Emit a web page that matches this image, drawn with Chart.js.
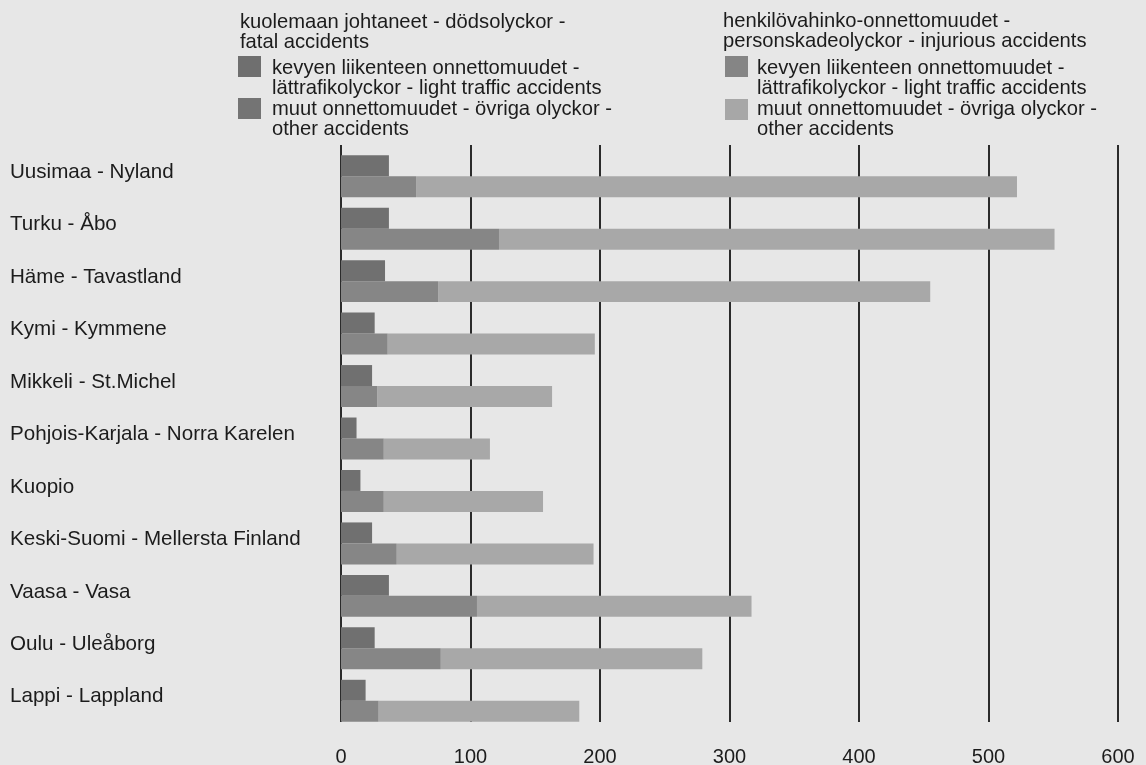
<!DOCTYPE html>
<html>
<head>
<meta charset="utf-8">
<script src="https://cdn.jsdelivr.net/npm/chart.js@4/dist/chart.umd.min.js"></script>
<style>
  html, body { margin: 0; padding: 0; background: #e7e7e7; }
  #wrap { position: relative; width: 1146px; height: 765px; overflow: hidden; background: #e7e7e7; }
  #c { position: absolute; left: 0; top: 0; }
  .lg { position: absolute; font-family: "Liberation Sans", Arial, sans-serif; font-size: 20.2px; color: #1c1c1c; white-space: nowrap; }
  .t { line-height: 20px; }
  .it { line-height: 20.5px; }
  .sq { position: absolute; width: 23px; height: 21px; }
</style>
</head>
<body>
<div id="wrap">
  <canvas id="c" width="1146" height="765"></canvas>

  <div class="lg t" style="left:240px; top:11px;">kuolemaan johtaneet - dödsolyckor -<br>fatal accidents</div>
  <div class="sq" style="left:238px; top:56px; background:#6f6f6f;"></div>
  <div class="lg it" style="left:272px; top:56.5px;">kevyen liikenteen onnettomuudet -<br>lättrafikolyckor - light traffic accidents</div>
  <div class="sq" style="left:238px; top:98px; background:#747474;"></div>
  <div class="lg it" style="left:272px; top:97.5px;">muut onnettomuudet - övriga olyckor -<br>other accidents</div>

  <div class="lg t" style="left:723px; top:10px;">henkilövahinko-onnettomuudet -<br>personskadeolyckor - injurious accidents</div>
  <div class="sq" style="left:725px; top:56px; background:#858585;"></div>
  <div class="lg it" style="left:757px; top:56.5px;">kevyen liikenteen onnettomuudet -<br>lättrafikolyckor - light traffic accidents</div>
  <div class="sq" style="left:725px; top:99px; background:#a7a7a7;"></div>
  <div class="lg it" style="left:757px; top:97.5px;">muut onnettomuudet - övriga olyckor -<br>other accidents</div>
</div>
<script>
// ---- data ----
const regions = [
  "Uusimaa - Nyland",
  "Turku - Åbo",
  "Häme - Tavastland",
  "Kymi - Kymmene",
  "Mikkeli - St.Michel",
  "Pohjois-Karjala - Norra Karelen",
  "Kuopio",
  "Keski-Suomi - Mellersta Finland",
  "Vaasa - Vasa",
  "Oulu - Uleåborg",
  "Lappi - Lappland"
];
// fatal accidents (light traffic + other, drawn in near-identical tones)
const fatalAccidents = [37, 37, 34, 26, 24, 12, 15, 24, 37, 26, 19];
// injurious accidents: light traffic accidents
const injuriousLightTraffic = [58, 122, 75, 36, 28, 33, 33, 43, 105, 77, 29];
// injurious accidents: other accidents (segment length beyond light traffic)
const injuriousOther = [464, 429, 380, 160, 135, 82, 123, 152, 212, 202, 155];
const xTicks = [0, 100, 200, 300, 400, 500, 600];

const FONT = '"Liberation Sans", Arial, sans-serif';

const gridPlugin = {
  id: 'vgrid',
  beforeDatasetsDraw(chart) {
    const ctx = chart.ctx;
    const xs = chart.scales.x;
    const area = chart.chartArea;
    ctx.save();
    ctx.strokeStyle = '#2b2b2b';
    ctx.lineWidth = 2;
    xTicks.forEach(v => {
      const px = Math.round(xs.getPixelForValue(v));
      ctx.beginPath();
      ctx.moveTo(px, area.top - 5);
      ctx.lineTo(px, area.bottom - 5);
      ctx.stroke();
    });
    ctx.restore();
  }
};

new Chart(document.getElementById('c'), {
  type: 'bar',
  data: {
    labels: regions,
    datasets: [
      { label: 'kuolemaan johtaneet - fatal accidents', data: fatalAccidents, stack: 'fatal', backgroundColor: '#707070', borderWidth: 0 },
      { label: 'kevyen liikenteen onnettomuudet - light traffic accidents', data: injuriousLightTraffic, stack: 'injurious', backgroundColor: '#868686', borderWidth: 0 },
      { label: 'muut onnettomuudet - other accidents', data: injuriousOther, stack: 'injurious', backgroundColor: '#a8a8a8', borderWidth: 0 }
    ]
  },
  options: {
    indexAxis: 'y',
    responsive: false,
    animation: false,
    events: [],
    categoryPercentage: 0.8,
    barPercentage: 1.0,
    layout: { padding: { left: 10, right: 28, top: 150, bottom: 0 } },
    plugins: { legend: { display: false }, tooltip: { enabled: false } },
    scales: {
      x: {
        type: 'linear',
        min: 0, max: 600,
        stacked: true,
        grid: { display: false, drawTicks: false },
        border: { display: false },
        ticks: {
          stepSize: 100,
          padding: 18,
          color: '#1c1c1c',
          font: { family: FONT, size: 20 }
        },
        afterFit(scale) { scale.height = 38; scale.paddingRight = 0; scale.paddingLeft = 0; }
      },
      y: {
        stacked: true,
        grid: { display: false, drawTicks: false },
        border: { display: false },
        ticks: {
          crossAlign: 'far',
          labelOffset: -4,
          color: '#1c1c1c',
          font: { family: FONT, size: 20.6 }
        },
        afterFit(scale) { scale.width = 331; scale.paddingTop = 0; scale.paddingBottom = 0; }
      }
    }
  },
  plugins: [gridPlugin]
});
</script>
</body>
</html>
